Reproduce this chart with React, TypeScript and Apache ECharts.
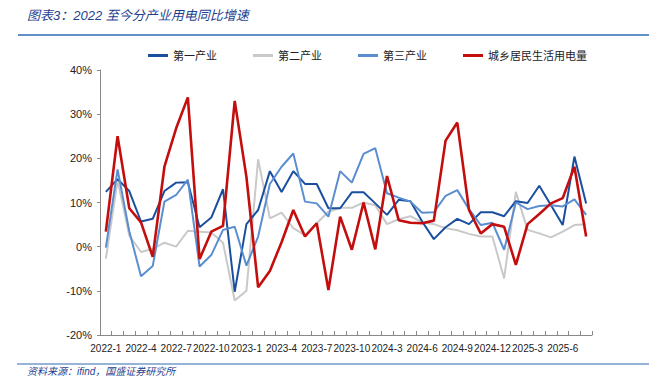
import React, { useEffect, useRef } from "react";
import * as echarts from "echarts";

const months: string[] = [
  "2022-1", "2022-2", "2022-3", "2022-4", "2022-5", "2022-6", "2022-7", "2022-8", "2022-9", "2022-10", "2022-11", "2022-12",
  "2023-1", "2023-2", "2023-3", "2023-4", "2023-5", "2023-6", "2023-7", "2023-8", "2023-9", "2023-10", "2023-11", "2023-12",
  "2024-3", "2024-4", "2024-5", "2024-6", "2024-7", "2024-8", "2024-9", "2024-10", "2024-11", "2024-12",
  "2025-1", "2025-2", "2025-3", "2025-4", "2025-5", "2025-6", "2025-7", "2025-8",
];

const firstIndustry: number[] = [
  12.4, 15.3, 12.6, 5.7, 6.3, 12.6, 14.5, 14.6, 4.4, 6.6, 13.0, -10.2,
  5.1, 8.3, 17.1, 12.4, 17.1, 14.2, 14.2, 8.7, 8.7, 12.3, 12.3, 9.8,
  7.2, 10.6, 10.3, 5.7, 1.7, 4.4, 6.3, 5.1, 7.8, 7.8,
  6.9, 10.3, 9.9, 13.8, 9.4, 4.9, 20.4, 9.8,
];

const secondIndustry: number[] = [
  -2.7, 15.0, 2.5, -1.2, -0.5, 0.9, 0.0, 3.6, 3.4, 3.2, 0.9, -12.2,
  -10.0, 19.8, 6.4, 7.7, 4.2, 2.6, 5.3, 7.9, 8.8, 8.8, 10.0, 9.4,
  5.1, 6.2, 6.9, 5.5, 5.1, 4.2, 3.7, 2.9, 2.3, 2.3,
  -7.2, 12.4, 3.8, 3.0, 2.1, 3.4, 4.9, 5.1,
];

const thirdIndustry: number[] = [
  -0.2, 17.5, 3.5, -6.7, -4.4, 10.2, 11.7, 15.2, -4.5, -1.9, 3.8, 4.5,
  -4.3, 2.3, 14.2, 18.1, 21.1, 10.2, 9.8, 6.8, 17.1, 14.5, 21.0, 22.3,
  12.1, 11.1, 10.2, 7.7, 7.8, 11.5, 12.8, 8.5, 4.9, 5.4,
  -0.7, 10.0, 8.5, 9.2, 9.4, 9.1, 10.7, 7.2,
];

const residential: number[] = [
  3.4, 25.0, 8.7, 5.5, -2.3, 18.1, 26.8, 33.8, -2.8, 3.4, 4.7, 33.0,
  15.8, -9.2, -5.5, 1.0, 8.3, 2.3, 5.3, -9.8, 6.8, -0.7, 10.0, -0.6,
  16.0, 6.0, 5.4, 5.3, 5.9, 24.0, 28.1, 8.3, 3.0, 5.1,
  4.5, -4.1, 5.1, 7.4, 9.8, 11.0, 18.1, 2.3,
];

const seriesNames: string[] = ["第一产业", "第二产业", "第三产业", "城乡居民生活用电量"];
const titleText = "图表3：2022 至今分产业用电同比增速";
const sourceText = "资料来源：ifind，国盛证券研究所";

export default function App() {
  const ref = useRef<HTMLDivElement>(null);

  useEffect(() => {
    document.body.style.margin = "0";
    if (!ref.current) return;
    const chart = echarts.init(ref.current, null, { renderer: "svg" });
    const colors = ["#1A4F9F", "#C9C9C9", "#5A8ED0", "#C40D0D"];
    const dataSets = [firstIndustry, secondIndustry, thirdIndustry, residential];
    const widths = [2, 2, 2, 2.6];
    chart.setOption({
      animation: false,
      backgroundColor: "#ffffff",
      textStyle: { fontFamily: "Liberation Sans, Noto Sans CJK SC, sans-serif" },
      graphic: [
        {
          type: "text",
          left: 27,
          top: 9,
          style: {
            text: titleText,
            fill: "#1F3F8F",
            font: "italic 13px 'Liberation Sans', 'Noto Sans CJK SC', sans-serif",
          },
        },
        {
          type: "line",
          shape: { x1: 18, y1: 35, x2: 649, y2: 35 },
          style: { stroke: "#2E6AB5", lineWidth: 1.5 },
        },
        {
          type: "line",
          shape: { x1: 17, y1: 364, x2: 649, y2: 364 },
          style: { stroke: "#2E6AB5", lineWidth: 1.2 },
        },
        {
          type: "text",
          left: 27,
          top: 366,
          style: {
            text: sourceText,
            fill: "#1F3F8F",
            font: "italic 10px 'Liberation Sans', 'Noto Sans CJK SC', sans-serif",
          },
        },
      ],
      legend: {
        left: 143,
        top: 45,
        itemGap: 36,
        itemWidth: 20,
        itemHeight: 3,
        icon: "rect",
        textStyle: { fontSize: 11, color: "#222" },
        data: seriesNames,
      },
      grid: { left: 100, right: 57, top: 70, bottom: 45, containLabel: false },
      xAxis: {
        type: "category",
        data: months,
        boundaryGap: true,
        axisLine: { onZero: false, lineStyle: { color: "#888", width: 1 } },
        axisTick: { show: true, inside: true, length: 4, interval: 0, lineStyle: { color: "#888" } },
        axisLabel: { interval: 2, fontSize: 10, color: "#222", margin: 8 },
        splitLine: { show: false },
      },
      yAxis: {
        type: "value",
        min: -20,
        max: 40,
        interval: 10,
        axisLine: { show: true, lineStyle: { color: "#888", width: 1 } },
        axisTick: { show: true, length: 3, lineStyle: { color: "#888" } },
        axisLabel: { formatter: "{value}%", fontSize: 11, color: "#222", margin: 8 },
        splitLine: { show: false },
      },
      series: seriesNames.map((name, k) => ({
        name,
        type: "line",
        data: dataSets[k],
        symbol: "none",
        color: colors[k],
        lineStyle: { color: colors[k], width: widths[k] },
        z: k === 3 ? 5 : k === 1 ? 1 : 3,
      })),
    });
    return () => chart.dispose();
  }, []);

  return <div ref={ref} style={{ width: 649, height: 380 }} />;
}
